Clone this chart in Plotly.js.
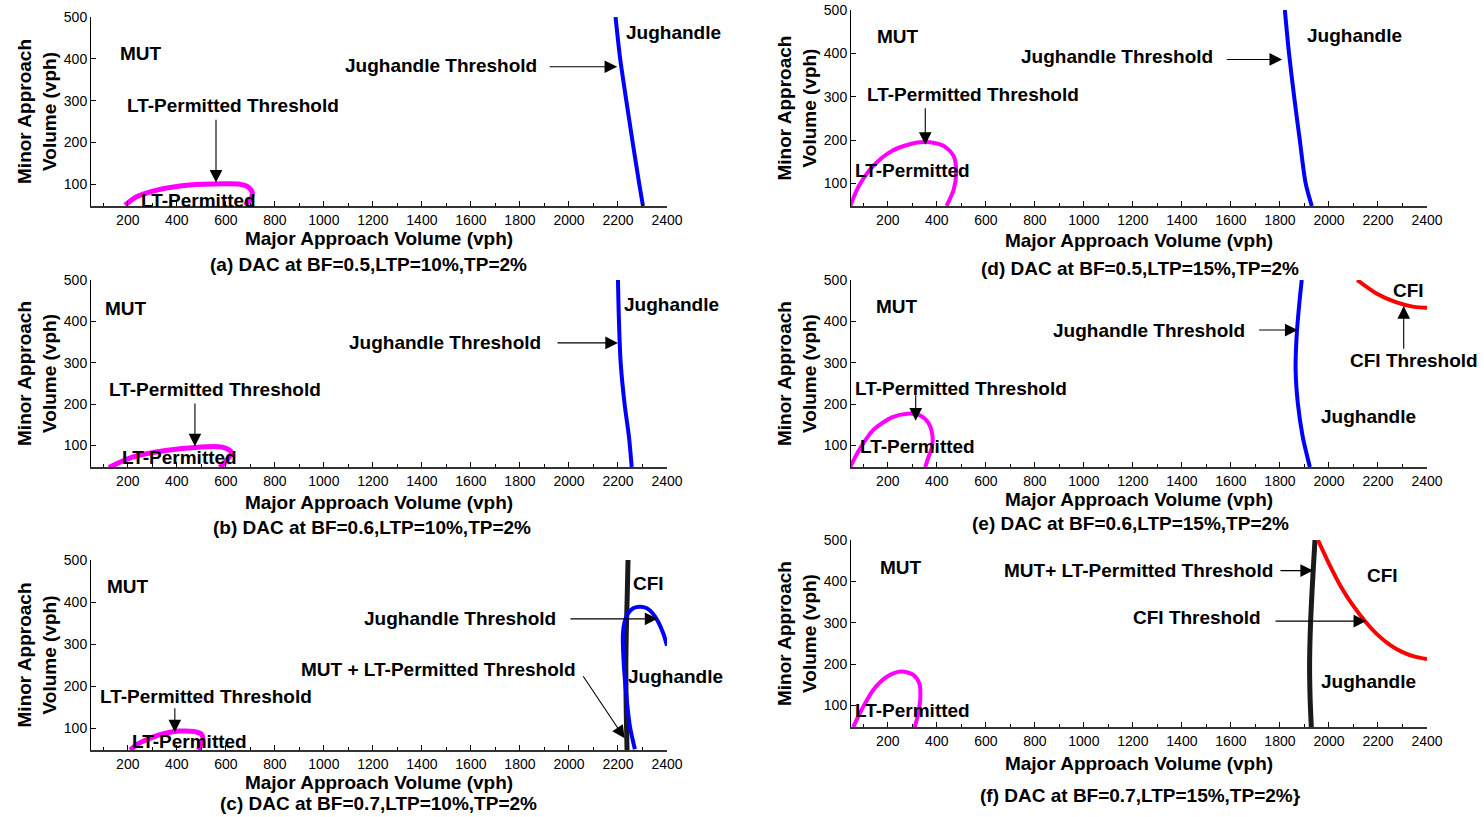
<!DOCTYPE html>
<html><head><meta charset="utf-8">
<script src="https://cdn.plot.ly/plotly-3.0.1.min.js"></script>
<style>html,body{margin:0;padding:0;background:#fff}#chart{width:1484px;height:817px}</style>
</head><body><div id="chart"></div>
<script>
// ---------- DATA ----------
// (a) BF=0.5, LTP=10%
const aLTx = [189, 236, 318, 413, 508, 604, 658, 692, 708, 699, 678];
const aLTy = [50, 70, 86, 96, 100, 101, 100, 93, 80, 62, 50];
const aJugX = [2190, 2209, 2234, 2260, 2287, 2302];
const aJugY = [500, 400, 300, 200, 100, 48];
// (b) BF=0.6, LTP=10%
const bLTx = [123, 219, 354, 488, 584, 623, 604, 575];
const bLTy = [47, 72, 88, 96, 96, 84, 64, 47];
const bJugX = [2200, 2204, 2211, 2227, 2245, 2256];
const bJugY = [500, 400, 300, 200, 120, 48];
// (c) BF=0.7, LTP=10%
const cLTx = [210, 240, 300, 354, 411, 470, 500, 507, 497, 488];
const cLTy = [48, 62, 78, 88, 93, 92, 86, 74, 58, 48];
const cMutX = [2241, 2238, 2234, 2232, 2233, 2235, 2237];
const cMutY = [500, 420, 330, 250, 170, 100, 48];
const cJugX = [2269, 2249, 2232, 2222, 2220, 2226, 2240, 2262, 2290, 2318, 2343, 2365, 2385, 2400];
const cJugY = [50, 103, 191, 270, 320, 350, 372, 385, 389, 385, 372, 352, 325, 296];
// (d) BF=0.5, LTP=15%
const dLTx = [47, 82, 140, 217, 314, 372, 430, 469, 479, 469, 440];
const dLTy = [48, 94, 140, 175, 194, 195, 186, 163, 125, 86, 48];
const dJugX = [1820, 1837, 1858, 1881, 1905, 1930];
const dJugY = [500, 400, 300, 200, 100, 48];
// (e) BF=0.6, LTP=15%
const eLTx = [47, 82, 140, 217, 280, 330, 365, 382, 380, 365, 353];
const eLTy = [48, 88, 137, 168, 177, 173, 155, 125, 96, 70, 48];
const eJugX = [1889, 1879, 1868, 1864, 1873, 1893, 1912, 1922];
const eJugY = [500, 443, 363, 283, 202, 121, 72, 48];
const eCfiX = [2115, 2192, 2270, 2347, 2400];
const eCfiY = [500, 468, 447, 435, 433];
// (f) BF=0.7, LTP=15%
const fLTx = [59, 92, 140, 198, 256, 304, 329, 333, 324, 310];
const fLTy = [48, 88, 137, 170, 182, 174, 153, 121, 80, 48];
const fMutX = [1943, 1935, 1925, 1921, 1923, 1928];
const fMutY = [500, 420, 300, 200, 120, 48];
const fCfiX = [1955, 2000, 2050, 2100, 2150, 2200, 2250, 2300, 2350, 2400];
const fCfiY = [500, 443, 386, 340, 302, 270, 246, 229, 218, 212];

const captions = [
  '(a) DAC at BF=0.5,LTP=10%,TP=2%',
  '(b) DAC at BF=0.6,LTP=10%,TP=2%',
  '(c) DAC at BF=0.7,LTP=10%,TP=2%',
  '(d) DAC at BF=0.5,LTP=15%,TP=2%',
  '(e) DAC at BF=0.6,LTP=15%,TP=2%',
  '(f) DAC at BF=0.7,LTP=15%,TP=2%}'
];
const xTitle = 'Major Approach Volume (vph)';
const yTitle = 'Minor Approach<br>Volume (vph)';

// ---------- STYLE ----------
const FONT = '"Liberation Sans", Arial, Helvetica, sans-serif';
const MAG = '#ff00ff', BLUE = '#0000ff', RED = '#ff0000';
const W = 1484, H = 817;

function sfx(k){ return k === 1 ? '' : String(k); }
function line(k, x, y, color, width){
  return {type:'scatter', mode:'lines', x:x, y:y, xaxis:'x'+sfx(k), yaxis:'y'+sfx(k),
    line:{color:color, width:width, shape:'spline', smoothing:0.8},
    hoverinfo:'skip', showlegend:false};
}
const data = [
  line(1, aLTx, aLTy, MAG, 5), line(1, aJugX, aJugY, BLUE, 4),
  line(2, bLTx, bLTy, MAG, 5), line(2, bJugX, bJugY, BLUE, 4),
  line(3, cLTx, cLTy, MAG, 5), line(3, cMutX, cMutY, '#1a1a1a', 5), line(3, cJugX, cJugY, BLUE, 4),
  line(4, dLTx, dLTy, MAG, 4), line(4, dJugX, dJugY, BLUE, 4),
  line(5, eLTx, eLTy, MAG, 4), line(5, eJugX, eJugY, BLUE, 4), line(5, eCfiX, eCfiY, RED, 4),
  line(6, fLTx, fLTy, MAG, 4), line(6, fMutX, fMutY, '#1a1a1a', 5), line(6, fCfiX, fCfiY, RED, 4)
];

// plot areas in pixels: [left, right, top, bottom]
const boxes = {
  1:[91, 667, 17, 206], 2:[91, 667, 280, 467], 3:[91, 667, 560, 750],
  4:[851, 1427, 10, 206], 5:[851, 1427, 280, 467], 6:[851, 1427, 540, 727]
};
const xStandoff = {1:4, 2:8, 3:3, 4:7, 5:2, 6:9};

const layout = {
  width:W, height:H, margin:{l:0, r:0, t:0, b:0},
  paper_bgcolor:'#fff', plot_bgcolor:'#fff',
  font:{family:FONT, size:14, color:'#000'},
  showlegend:false, annotations:[]
};
for (let k = 1; k <= 6; k++){
  const b = boxes[k];
  layout['xaxis'+sfx(k)] = {
    domain:[b[0]/W, b[1]/W], anchor:'y'+sfx(k), range:[50, 2400],
    tick0:0, dtick:200, ticks:'inside', ticklen:5, tickwidth:1, tickcolor:'#000',
    minor:{dtick:100, ticks:'inside', ticklen:3, tickcolor:'#000'},
    showline:true, linecolor:'#333', linewidth:2, showgrid:false, zeroline:false,
    tickfont:{family:FONT, size:14, color:'#000'},
    title:{text:'<b>'+xTitle+'</b>', font:{family:FONT, size:19, color:'#000'}, standoff:xStandoff[k]},
    automargin:false, fixedrange:true
  };
  layout['yaxis'+sfx(k)] = {
    domain:[1-b[3]/H, 1-b[2]/H], anchor:'x'+sfx(k), range:[48, 500],
    tick0:0, dtick:100, ticks:'inside', ticklen:5, tickwidth:1, tickcolor:'#000',
    showline:true, linecolor:'#000', linewidth:1, showgrid:false, zeroline:false,
    tickfont:{family:FONT, size:14, color:'#000'},
    title:{text:'<b>'+yTitle+'</b>', font:{family:FONT, size:19, color:'#000'}, standoff:2},
    automargin:false, fixedrange:true
  };
}

const TF = {family:FONT, size:19, color:'#000'};
function txt(k, x, y, t, xa){
  return {xref:'x'+sfx(k), yref:'y'+sfx(k), x:x, y:y, text:'<b>'+t+'</b>', showarrow:false,
    font:TF, xanchor:xa||'center', yanchor:'middle'};
}
function arr(k, tx, ty, hx, hy){
  return {xref:'x'+sfx(k), yref:'y'+sfx(k), axref:'x'+sfx(k), ayref:'y'+sfx(k),
    x:hx, y:hy, ax:tx, ay:ty, text:'', showarrow:true, arrowhead:2, arrowsize:2.3,
    arrowwidth:1.1, arrowcolor:'#000', standoff:0, startstandoff:0};
}
const A = layout.annotations;
// (a)
A.push(txt(1, 254, 412, 'MUT'), txt(1, 2225, 462, 'Jughandle', 'left'),
  txt(1, 1478, 383, 'Jughandle Threshold'), arr(1, 1915, 381, 2197, 381),
  txt(1, 629, 289, 'LT-Permitted Threshold'), arr(1, 560, 258, 560, 104),
  txt(1, 487, 62, 'LT-Permitted'));
// (b)
A.push(txt(2, 193, 430, 'MUT'), txt(2, 2216, 442, 'Jughandle', 'left'),
  txt(2, 1494, 350, 'Jughandle Threshold'), arr(2, 1947, 348, 2200, 348),
  txt(2, 556, 236, 'LT-Permitted Threshold'), arr(2, 474, 205, 474, 98),
  txt(2, 413, 72, 'LT-Permitted'));
// (c)
A.push(txt(3, 200, 437, 'MUT'), txt(3, 2252, 445, 'CFI', 'left'),
  txt(3, 1554, 362, 'Jughandle Threshold'), arr(3, 2000, 360, 2361, 360),
  txt(3, 1468, 239, 'MUT + LT-Permitted Threshold'), arr(3, 2054, 227, 2227, 76),
  txt(3, 2233, 223, 'Jughandle', 'left'),
  txt(3, 521, 175, 'LT-Permitted Threshold'), arr(3, 392, 151, 392, 90),
  txt(3, 450, 68, 'LT-Permitted'));
// (d)
A.push(txt(4, 243, 438, 'MUT'), txt(4, 1902, 442, 'Jughandle', 'left'),
  txt(4, 1137, 392, 'Jughandle Threshold'), arr(4, 1577, 386, 1809, 386),
  txt(4, 547, 304, 'LT-Permitted Threshold'), arr(4, 353, 277, 353, 189),
  txt(4, 299, 129, 'LT-Permitted'));
// (e)
A.push(txt(5, 237, 435, 'MUT'), txt(5, 2324, 474, 'CFI'),
  txt(5, 2348, 306, 'CFI Threshold'), arr(5, 2305, 330, 2305, 437),
  txt(5, 1267, 379, 'Jughandle Threshold'), arr(5, 1709, 379, 1872, 379),
  txt(5, 500, 237, 'LT-Permitted Threshold'), arr(5, 314, 225, 314, 160),
  txt(5, 2160, 170, 'Jughandle'), txt(5, 320, 98, 'LT-Permitted'));
// (f)
A.push(txt(6, 256, 434, 'MUT'),
  txt(6, 1224, 427, 'MUT+ LT-Permitted Threshold'), arr(6, 1796, 426, 1935, 426),
  txt(6, 2218, 415, 'CFI'),
  txt(6, 1461, 313, 'CFI Threshold'), arr(6, 1776, 304, 2152, 304),
  txt(6, 2160, 159, 'Jughandle'), txt(6, 299, 89, 'LT-Permitted'));
// captions
const capPos = [[368, 264], [372, 527], [378, 803], [1140, 268], [1130, 523], [1140, 795]];
captions.forEach(function(c, i){
  A.push({xref:'paper', yref:'paper', x:capPos[i][0]/W, y:1-capPos[i][1]/H,
    text:'<b>'+c+'</b>', showarrow:false, font:{family:FONT, size:19, color:'#000'},
    xanchor:'center', yanchor:'middle'});
});

Plotly.newPlot('chart', data, layout, {displayModeBar:false, staticPlot:true});
</script></body></html>
